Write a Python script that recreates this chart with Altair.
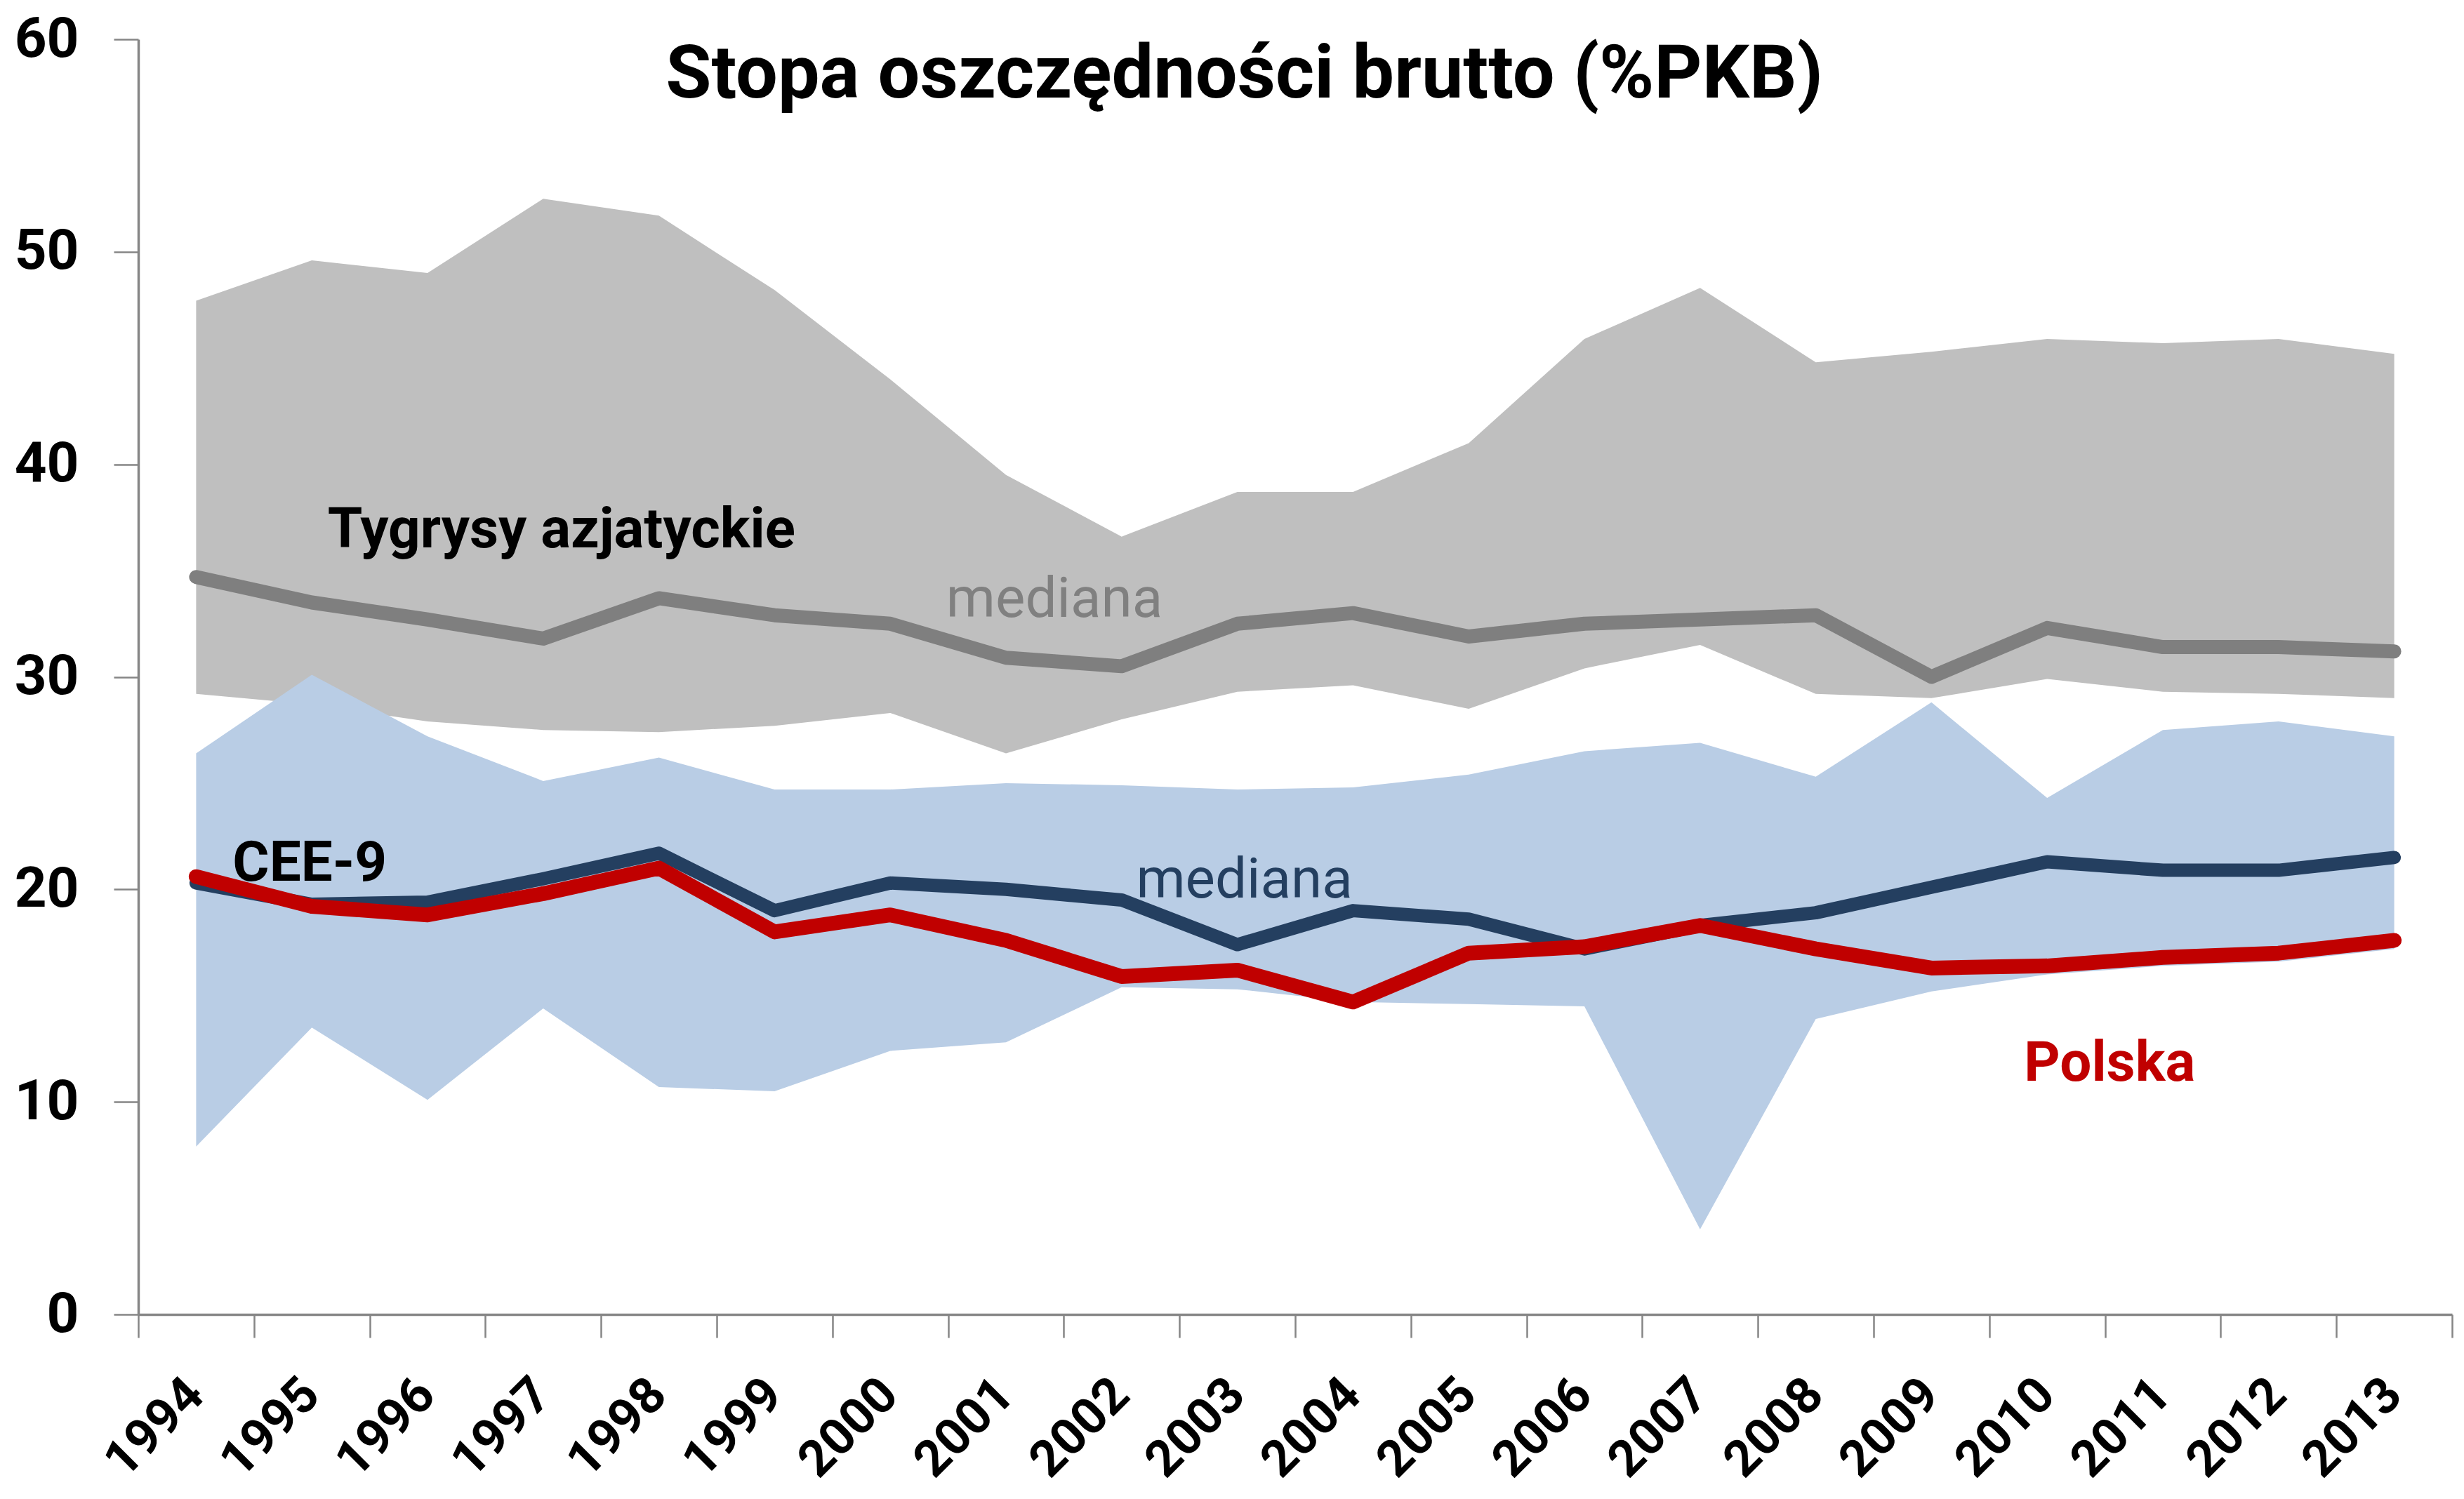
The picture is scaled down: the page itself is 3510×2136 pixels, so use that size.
import altair as alt
import pandas as pd

# ---- data ----
years = ["1994", "1995", "1996", "1997", "1998", "1999", "2000", "2001", "2002", "2003",
         "2004", "2005", "2006", "2007", "2008", "2009", "2010", "2011", "2012", "2013"]

tigers_upper = [47.7, 49.6, 49.0, 52.5, 51.7, 48.2, 44.0, 39.5, 36.6, 38.7,
                38.7, 41.0, 45.9, 48.3, 44.8, 45.3, 45.9, 45.7, 45.9, 45.2]
tigers_lower = [29.2, 28.7, 27.9, 27.5, 27.4, 27.7, 28.3, 26.4, 28.0, 29.3,
                29.6, 28.5, 30.4, 31.5, 29.2, 29.0, 29.9, 29.3, 29.2, 29.0]
tigers_median = [34.7, 33.5, 32.7, 31.8, 33.7, 32.9, 32.5, 30.9, 30.5, 32.5,
                 33.0, 31.9, 32.5, 32.7, 32.9, 30.0, 32.3, 31.4, 31.4, 31.2]

cee_upper = [26.4, 30.1, 27.2, 25.1, 26.2, 24.7, 24.7, 25.0, 24.9, 24.7,
             24.8, 25.4, 26.5, 26.9, 25.3, 28.8, 24.3, 27.5, 27.9, 27.2]
cee_lower = [7.9, 13.5, 10.1, 14.4, 10.7, 10.5, 12.4, 12.8, 15.4, 15.3,
             14.7, 14.6, 14.5, 4.0, 13.9, 15.2, 16.0, 16.4, 16.6, 17.2]
cee_median = [20.3, 19.3, 19.4, 20.5, 21.7, 19.0, 20.3, 20.0, 19.5, 17.4,
              19.0, 18.6, 17.2, 18.3, 18.9, 20.1, 21.3, 20.9, 20.9, 21.5]

poland = [20.6, 19.2, 18.8, 19.8, 21.0, 18.0, 18.8, 17.6, 15.9, 16.2,
          14.7, 17.0, 17.3, 18.3, 17.2, 16.3, 16.4, 16.8, 17.0, 17.6]

y_ticks = [0, 10, 20, 30, 40, 50, 60]

title_text = "Stopa oszczędności brutto (%PKB)"
title_year = "2003"
title_value = 58.3

# annotation labels: text, anchor year, anchor value
label_texts = ["Tygrysy azjatyckie", "mediana", "CEE-9", "mediana", "Polska"]
label_years = ["1997", "2001", "1995", "2003", "2010"]
label_values = [36.9, 33.6, 21.2, 20.4, 11.8]

df = pd.DataFrame({
    "year": years,
    "t_up": tigers_upper, "t_lo": tigers_lower, "t_med": tigers_median,
    "c_up": cee_upper, "c_lo": cee_lower, "c_med": cee_median,
    "pl": poland,
})

AXIS_COLOR = "#868686"

x_enc = alt.X(
    "year:O", sort=years, title=None, bandPosition=0.5,
    scale=alt.Scale(type="band", paddingInner=0, paddingOuter=0),
    axis=alt.Axis(
        tickBand="extent", labelAngle=-45, labelAlign="right", labelBaseline="top",
        labelFont="Roboto", labelFontSize=72, labelFontWeight="bold", labelColor="black",
        labelPadding=45, labelOffset=-26, labelLimit=500, labelOverlap=False,
        tickSize=33, tickColor=AXIS_COLOR, tickWidth=2.5,
        domainColor=AXIS_COLOR, domainWidth=3.5, grid=False,
    ),
)

y_scale = alt.Scale(domain=[0, 60], nice=False, zero=True)
y_axis = alt.Axis(
    values=y_ticks, labelFont="Roboto", labelFontSize=80, labelFontWeight="bold",
    labelColor="black", labelPadding=50, tickSize=35, tickColor=AXIS_COLOR,
    tickWidth=2.5, domainColor=AXIS_COLOR, domainWidth=3.5, grid=False,
)


def yq(field):
    return alt.Y(f"{field}:Q", scale=y_scale, axis=y_axis, title=None)


base = alt.Chart(df)

grey_area = base.mark_area(color="#BFBFBF", opacity=1).encode(
    x=x_enc, y=yq("t_lo"), y2="t_up:Q")
grey_line = base.mark_line(color="#7F7F7F", strokeWidth=20, strokeCap="round",
                           strokeJoin="round").encode(x=x_enc, y=yq("t_med"))
blue_area = base.mark_area(color="#B9CDE5", opacity=1).encode(
    x=x_enc, y=yq("c_lo"), y2="c_up:Q")
navy_line = base.mark_line(color="#243F60", strokeWidth=19, strokeCap="round",
                           strokeJoin="round").encode(x=x_enc, y=yq("c_med"))
red_line = base.mark_line(color="#C00000", strokeWidth=21, strokeCap="round",
                          strokeJoin="round").encode(x=x_enc, y=yq("pl"))

label_styles = [
    dict(color="black", fontWeight="bold", dx=26),
    dict(color="#808080", fontWeight="normal", dx=69),
    dict(color="black", fontWeight="bold", dx=-3),
    dict(color="#243F60", fontWeight="normal", dx=10),
    dict(color="#C00000", fontWeight="bold", dx=89),
]

text_layers = []
for txt, yr, val, st in zip(label_texts, label_years, label_values, label_styles):
    ldf = pd.DataFrame({"year": [yr], "v": [val], "label": [txt]})
    text_layers.append(
        alt.Chart(ldf).mark_text(
            font="Roboto", fontSize=80, align="center", baseline="middle", **st
        ).encode(x=x_enc, y=yq("v"), text="label:N")
    )

title_df = pd.DataFrame({"year": [title_year], "v": [title_value], "label": [title_text]})
title_layer = alt.Chart(title_df).mark_text(
    font="Roboto", fontSize=106, fontWeight="bold", color="black",
    align="center", baseline="middle", dx=10,
).encode(x=x_enc, y=yq("v"), text="label:N")

chart = alt.layer(
    grey_area, grey_line, blue_area, navy_line, red_line, *text_layers, title_layer
).properties(
    width=3296, height=1817,
    autosize=alt.AutoSizeParams(type="none"),
    padding={"left": 189, "top": 48, "right": 5, "bottom": 250},
).configure_view(stroke=None)

chart.save("out.html", embed_options={"renderer": "svg", "actions": False})
